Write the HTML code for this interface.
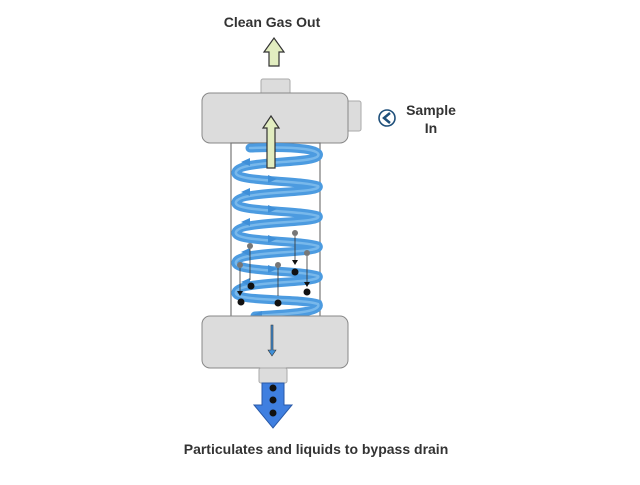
<!DOCTYPE html>
<html><head><style>
body{margin:0;background:#fff;}
text{font-family:"Liberation Sans",sans-serif;font-weight:bold;fill:#333;}
</style></head><body>
<svg width="640" height="480" viewBox="0 0 640 480" xmlns="http://www.w3.org/2000/svg">
<text x="272" y="27" font-size="14" text-anchor="middle">Clean Gas Out</text>
<path d="M269,66 V52 H264 L274,38 L284,52 H279 V66 Z" fill="#e2edc0" stroke="#333" stroke-width="1.2"/>
<rect x="261" y="79" width="29" height="16" rx="2" fill="#dcdcdc" stroke="#aaa"/>
<rect x="346" y="101" width="15" height="30" rx="2" fill="#dcdcdc" stroke="#aaa"/>
<rect x="202" y="93" width="146" height="50" rx="8" fill="#dcdcdc" stroke="#888"/>
<rect x="231" y="143" width="89" height="174" fill="#fff" stroke="#777" stroke-width="1.2"/>
<g fill="none" stroke-linecap="round">
<path d="M250,148 C300,146 322,150 318,156 C312,164 240,160 236,172 C232,182 300,180 318,186 C324,194 240,190 236,202 C232,212 300,210 318,216 C324,224 240,220 236,232 C232,242 300,240 318,246 C324,254 240,250 236,262 C232,272 300,270 318,276 C324,284 240,280 236,292 C232,302 300,298 318,304 C322,312 290,314 255,316" stroke="#4c9be0" stroke-width="9"/>
<path d="M250,148 C300,146 322,150 318,156 C312,164 240,160 236,172 C232,182 300,180 318,186 C324,194 240,190 236,202 C232,212 300,210 318,216 C324,224 240,220 236,232 C232,242 300,240 318,246 C324,254 240,250 236,262 C232,272 300,270 318,276 C324,284 240,280 236,292 C232,302 300,298 318,304 C322,312 290,314 255,316" stroke="#8cc4f0" stroke-width="2.5" opacity="0.7"/>
</g>
<g fill="#3f8fd8">
<path d="M250,158 l-9,4 l9,4z"/><path d="M268,175 l9,4 l-9,4z"/><path d="M250,188 l-9,4 l9,4z"/><path d="M268,205 l9,4 l-9,4z"/><path d="M250,218 l-9,4 l9,4z"/><path d="M268,235 l9,4 l-9,4z"/><path d="M250,248 l-9,4 l9,4z"/><path d="M268,265 l9,4 l-9,4z"/><path d="M250,278 l-9,4 l9,4z"/><path d="M262,311 l-11,5 l11,5z"/>
</g>
<g fill="#777"><circle cx="295" cy="233" r="3"/><circle cx="250" cy="246" r="3"/><circle cx="307" cy="253" r="3"/><circle cx="240" cy="265" r="3"/><circle cx="278" cy="265" r="3"/></g>
<g stroke="#333" stroke-width="0.8"><line x1="295" y1="236" x2="295" y2="260"/><line x1="250" y1="249" x2="250" y2="280"/><line x1="307" y1="256" x2="307" y2="283"/><line x1="240" y1="268" x2="240" y2="292"/><line x1="278" y1="268" x2="278" y2="296"/></g>
<g fill="#111"><path d="M292,260 h6 l-3,5z"/><path d="M304,282 h6 l-3,5z"/><path d="M237,291 h6 l-3,5z"/><circle cx="295" cy="272" r="3.5"/><circle cx="251" cy="286" r="3.5"/><circle cx="307" cy="292" r="3.5"/><circle cx="241" cy="302" r="3.5"/><circle cx="278" cy="303" r="3.5"/></g>
<path d="M267,168 V128 H263 L271,116 L279,128 H275 V168 Z" fill="#e2edc0" stroke="#333" stroke-width="1.2"/>
<rect x="202" y="316" width="146" height="52" rx="8" fill="#dcdcdc" stroke="#888"/>
<rect x="259" y="368" width="28" height="15" rx="2" fill="#dcdcdc" stroke="#aaa"/>
<path d="M271,325 V350 H268 L272,356 L276,350 H273 V325 Z" fill="#3f8fd8" stroke="#333" stroke-width="0.6"/>
<path d="M262,383 V405 H254 L273,428 L292,405 H284 V383 Z" fill="#3f7fe0" stroke="#2a5aa8"/>
<g fill="#111"><circle cx="273" cy="388" r="3.5"/><circle cx="273" cy="400" r="3.5"/><circle cx="273" cy="413" r="3.5"/></g>
<circle cx="387" cy="118" r="8" fill="#fff" stroke="#1e4f7a" stroke-width="1.6"/>
<path d="M390,113 L384,118 L390,123" fill="none" stroke="#1e4f7a" stroke-width="2.5"/>
<text x="431" y="115" font-size="14" text-anchor="middle">Sample</text>
<text x="431" y="133" font-size="14" text-anchor="middle">In</text>
<text x="316" y="454" font-size="14" text-anchor="middle">Particulates and liquids to bypass drain</text>
</svg>
</body></html>
